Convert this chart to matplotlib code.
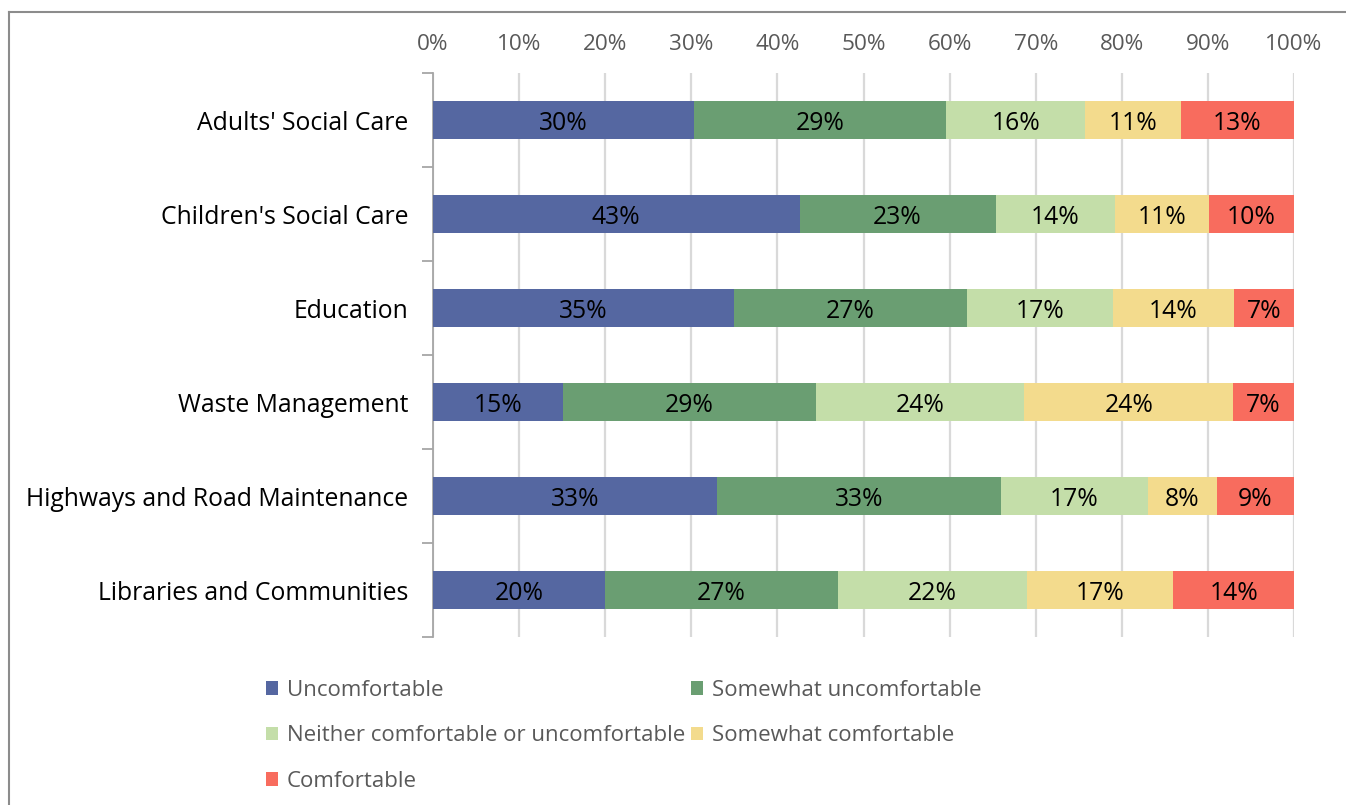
import matplotlib
matplotlib.use("Agg")
import matplotlib.pyplot as plt
import numpy as np
from matplotlib.lines import Line2D
from matplotlib.patches import Patch

plt.rcParams['font.family'] = ['Open Sans', 'DejaVu Sans']

services = ["Adults' Social Care", "Children's Social Care", "Education",
            "Waste Management", "Highways and Road Maintenance",
            "Libraries and Communities"]
responses = ["Uncomfortable", "Somewhat uncomfortable",
             "Neither comfortable or uncomfortable", "Somewhat comfortable",
             "Comfortable"]

uncomfortable = [30, 43, 35, 15, 33, 20]
somewhat_uncomfortable = [29, 23, 27, 29, 33, 27]
neither = [16, 14, 17, 24, 17, 22]
somewhat_comfortable = [11, 11, 14, 24, 8, 17]
comfortable = [13, 10, 7, 7, 9, 14]

colors = ["#5567A1", "#6A9E72", "#C4DEA9", "#F3DB8D", "#F86C5E"]
x_ticks = [0, 10, 20, 30, 40, 50, 60, 70, 80, 90, 100]

series = np.array([uncomfortable, somewhat_uncomfortable, neither,
                   somewhat_comfortable, comfortable], dtype=float)
# 100% stacked: each row scaled to its own total
shares = series / series.sum(axis=0) * 100

fig = plt.figure(figsize=(13.46, 8.05), dpi=100)
ax = fig.add_axes([433 / 1346, 1 - 637 / 805, (1294 - 433) / 1346, (637 - 73) / 805])

y = np.arange(len(services))
left = np.zeros(len(services))
handles = []
for i, name in enumerate(responses):
    bars = ax.barh(y, shares[i], left=left, height=0.405, color=colors[i],
                   label=name, zorder=3)
    for j, rect in enumerate(bars):
        cx = left[j] + shares[i][j] / 2
        ax.text(cx, y[j], f"{int(series[i][j])}%", ha="center",
                va="center_baseline", fontsize=17.8, color="black", zorder=4)
    left += shares[i]
    handles.append(Patch(facecolor=colors[i], label=name))

ax.set_xlim(0, 100)
ax.set_ylim(len(services) - 0.5, -0.5)
ax.set_xticks(x_ticks)
ax.set_xticklabels([f"{v}%" for v in x_ticks])
ax.xaxis.tick_top()
ax.tick_params(axis="x", length=0, pad=13, labelsize=16.2, labelcolor="#595959")
ax.grid(axis="x", color="#D9D9D9", linewidth=1.6, zorder=0)

ax.set_yticks(y)
ax.set_yticklabels(services)
ax.set_yticks(np.arange(-0.5, len(services)), minor=True)
ax.tick_params(axis="y", which="major", length=0, pad=18, labelsize=17.8,
               labelcolor="black")
ax.tick_params(axis="y", which="minor", length=8, width=1.3, color="#A6A6A6")

for side in ["top", "right", "bottom"]:
    ax.spines[side].set_visible(False)
ax.spines["left"].set_color("#A6A6A6")
ax.spines["left"].set_linewidth(1.3)

# legend filled column-first: reorder so rows read left to right
order = [0, 2, 4, 1, 3]
leg = fig.legend([handles[k] for k in order], [responses[k] for k in order],
                 ncol=2, loc="upper left", bbox_to_anchor=(266 / 1346, 1 - 680 / 805),
                 frameon=False, fontsize=16, handlelength=0.55, handleheight=0.55,
                 handletextpad=0.4, columnspacing=0.25, labelspacing=1.1,
                 borderaxespad=0, borderpad=0)
for t in leg.get_texts():
    t.set_color("#595959")

# chart frame
fig.add_artist(Line2D([8.5 / 1346, 8.5 / 1346], [0, 1 - 12.5 / 805],
                      transform=fig.transFigure, color="#8C8C8C", linewidth=1.5))
fig.add_artist(Line2D([8.5 / 1346, 1], [1 - 12.5 / 805, 1 - 12.5 / 805],
                      transform=fig.transFigure, color="#8C8C8C", linewidth=1.5))

fig.savefig("out.png", dpi=100)
